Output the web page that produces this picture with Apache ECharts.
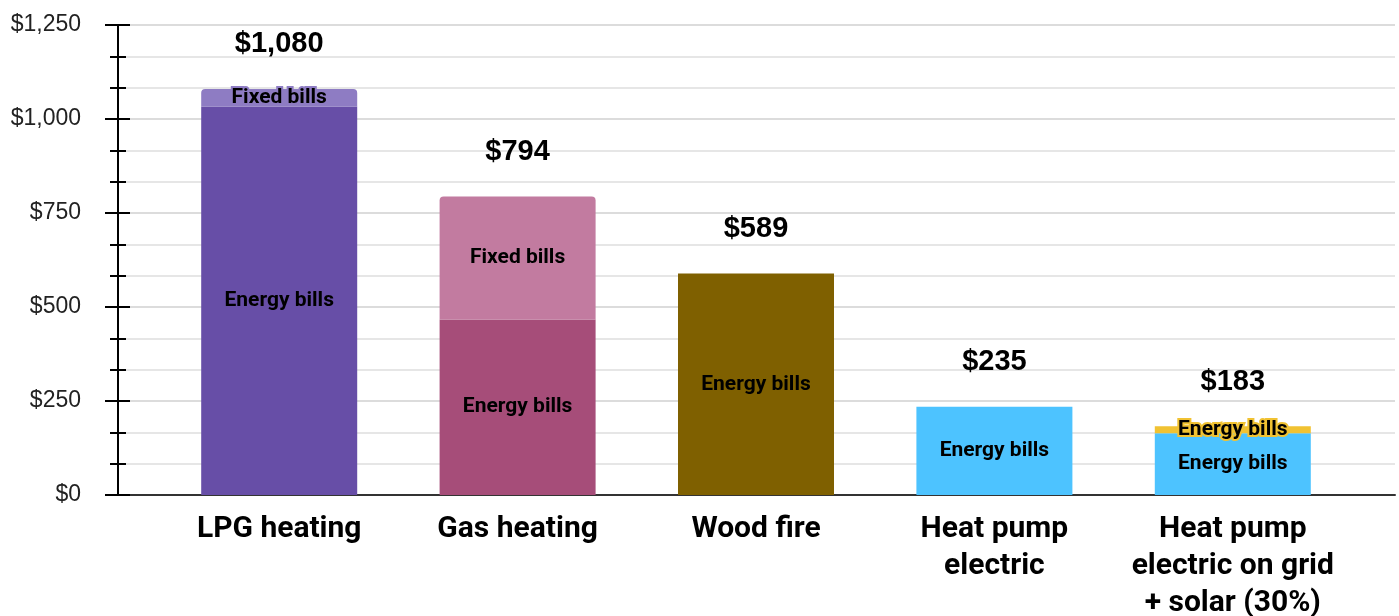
<!DOCTYPE html>
<html>
<head>
<meta charset="utf-8">
<script src="https://cdn.jsdelivr.net/npm/echarts@6/dist/echarts.min.js"></script>
<style>
  html, body { margin: 0; padding: 0; background: #fff; }
  #chart { width: 1399px; height: 616px; }
</style>
</head>
<body>
<div id="chart"></div>
<script>
// data
const categories = ['LPG heating', 'Gas heating', 'Wood fire', 'Heat pump\nelectric', 'Heat pump\nelectric on grid\n+ solar (30%)'];
const energyBills = [1033, 467, 589, 235, 164];
const secondBills = [47, 327, 0, 0, 19];
const secondNames = ['Fixed bills', 'Fixed bills', '', '', 'Energy bills'];
const totals = [1080, 794, 589, 235, 183];
const energyColors = ['#674ea7', '#a64d79', '#7f6000', '#4dc3ff', '#4dc3ff'];
const secondColors = ['#8e7cc3', '#c27ba0', '#7f6000', '#4dc3ff', '#f1c232'];
const yTicks = [0, 250, 500, 750, 1000, 1250];

const fmtMoney = v => '$' + v.toLocaleString('en-US');
const font = 'Roboto';
const arial = 'Liberation Sans';
const yMax = yTicks[yTicks.length - 1];

let chart = echarts.init(document.getElementById('chart'));

chart.setOption({
  animation: false,
  textStyle: { fontFamily: font },
  grid: [
    // bars
    { left: 160, right: 47, top: 25, bottom: 121, outerBoundsMode: 'none' },
    // axis + gridlines
    { left: 118, right: 4, top: 25, bottom: 121, outerBoundsMode: 'none' }
  ],
  xAxis: [
    {
      type: 'category', gridIndex: 0, data: categories,
      axisLine: { show: false }, axisTick: { show: false },
      axisLabel: {
        color: '#000', fontSize: 30, fontWeight: 'bold', fontFamily: font,
        lineHeight: 37, margin: 16, interval: 0
      }
    },
    {
      type: 'value', gridIndex: 1, min: 0, max: 1,
      axisLine: { show: true, lineStyle: { color: '#333', width: 2 } },
      axisTick: { show: false }, axisLabel: { show: false }, splitLine: { show: false }
    }
  ],
  yAxis: [
    { type: 'value', gridIndex: 0, min: 0, max: yMax, interval: 250, show: false },
    {
      type: 'value', gridIndex: 1, min: 0, max: yMax, interval: 250,
      axisLine: { show: true, lineStyle: { color: '#000', width: 2 } },
      axisTick: { show: true, length: 13, lineStyle: { color: '#000', width: 2 } },
      minorTick: { show: true, splitNumber: 3, length: 8, lineStyle: { color: '#000', width: 2 } },
      axisLabel: { color: '#222', fontSize: 23, fontFamily: arial, margin: 37, formatter: fmtMoney },
      splitLine: { show: true, lineStyle: { color: '#dcdcdc', width: 2 } },
      minorSplitLine: { show: true, lineStyle: { color: '#e6e6e6', width: 2 } }
    },
    {
      type: 'value', gridIndex: 1, position: 'left', min: 0, max: yMax, interval: 250,
      axisLine: { show: false },
      axisTick: { show: true, inside: true, length: 12, lineStyle: { color: '#000', width: 2 } },
      minorTick: { show: true, splitNumber: 3, length: 8, lineStyle: { color: '#000', width: 2 } },
      axisLabel: { show: false }, splitLine: { show: false }
    }
  ],
  series: [
    {
      name: 'Energy bills', type: 'bar', stack: 'a', xAxisIndex: 0, yAxisIndex: 0,
      barWidth: 156,
      data: energyBills.map((v, i) => ({ value: v, itemStyle: { color: energyColors[i] } })),
      label: {
        show: true, position: 'inside', formatter: 'Energy bills',
        color: '#000', fontSize: 21, fontWeight: 'bold', fontFamily: font
      }
    },
    {
      name: 'Top', type: 'bar', stack: 'a', xAxisIndex: 0, yAxisIndex: 0,
      barWidth: 156,
      data: secondBills.map((v, i) => ({
        value: v,
        itemStyle: { color: secondColors[i], borderRadius: i < 2 ? [4, 4, 0, 0] : 0 },
        label: {
          show: v > 0, formatter: secondNames[i],
          textBorderColor: secondColors[i], textBorderWidth: 4
        }
      })),
      label: {
        show: true, position: 'inside',
        color: '#000', fontSize: 21, fontWeight: 'bold', fontFamily: font
      }
    },
    {
      name: 'Total', type: 'bar', stack: 'a', xAxisIndex: 0, yAxisIndex: 0,
      barWidth: 156,
      data: totals.map(() => 0),
      itemStyle: { color: 'transparent' },
      label: {
        show: true, position: 'top', distance: 30,
        formatter: p => fmtMoney(totals[p.dataIndex]),
        color: '#000', fontSize: 29, fontWeight: 'bold', fontFamily: arial
      }
    }
  ]
});
</script>
</body>
</html>
